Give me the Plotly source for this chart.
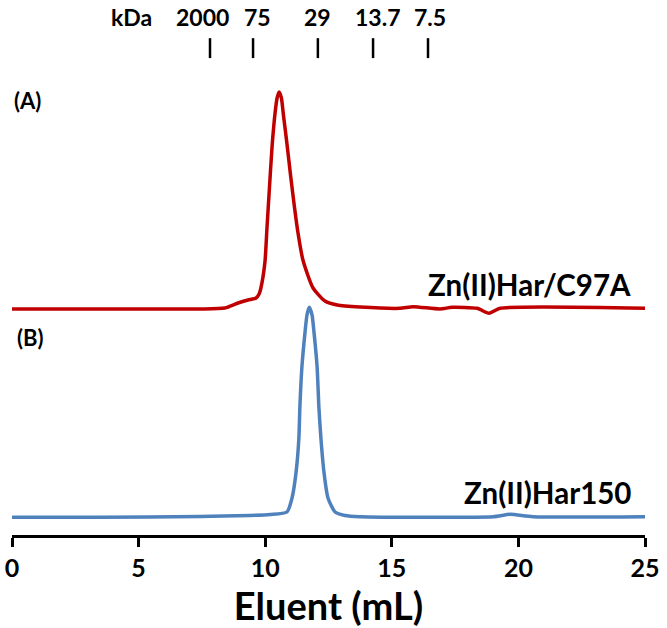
import plotly.graph_objects as go

# Elution profiles (x in mL, y in arbitrary absorbance units, traces offset)
red_x = [0, 3.48, 7.42, 8.41, 8.93, 9.32, 9.64, 9.76, 9.83, 9.99, 10.07, 10.15, 10.27, 10.39,
         10.47, 10.55, 10.64, 10.72, 10.86, 11.00, 11.15, 11.29, 11.49, 11.89, 12.36, 12.84, 13.74,
         15.32, 15.84, 16.90, 17.38, 18.37, 18.84, 19.28, 25.0]
red_y = [2.26, 2.26, 2.26, 2.27, 2.32, 2.35, 2.37, 2.41, 2.47, 2.73, 3.07, 3.40, 3.88, 4.22,
         4.37, 4.43, 4.37, 4.20, 3.91, 3.60, 3.29, 3.03, 2.75, 2.47, 2.34, 2.30, 2.28,
         2.267, 2.283, 2.26, 2.277, 2.267, 2.217, 2.267, 2.267]

blue_x = [0, 3.48, 7.42, 9.40, 10.19, 10.86, 11.06, 11.22, 11.33, 11.37, 11.45, 11.57, 11.65,
          11.74, 11.85, 11.93, 12.05, 12.12, 12.20, 12.32, 12.48, 12.76, 13.15, 13.74,
          19.00, 19.67, 20.58, 25.0]
blue_y = [0.177, 0.177, 0.185, 0.195, 0.205, 0.23, 0.37, 0.63, 0.97, 1.28, 1.68, 2.02, 2.20,
          2.277, 2.20, 2.02, 1.68, 1.28, 0.97, 0.63, 0.37, 0.23, 0.195, 0.183,
          0.183, 0.207, 0.183, 0.183]

# Molecular-weight markers
marker_labels = ["2000", "75", "29", "13.7", "7.5"]
marker_pos = [7.82, 9.52, 12.08, 14.26, 16.43]
marker_label_x = [7.54, 9.68, 12.05, 14.42, 16.51]

x_ticks = [0, 5, 10, 15, 20, 25]

FONT = "Lato"

fig = go.Figure()
fig.add_trace(go.Scatter(x=red_x, y=red_y, mode="lines",
                         line=dict(color="#C00000", width=3.5, shape="spline", smoothing=0.6),
                         showlegend=False))
fig.add_trace(go.Scatter(x=blue_x, y=blue_y, mode="lines",
                         line=dict(color="#4F81BD", width=3.5, shape="spline", smoothing=0.6),
                         showlegend=False))

for p in marker_pos:
    fig.add_shape(type="line", xref="x", yref="paper", x0=p, x1=p, y0=1.004, y1=1.046,
                  line=dict(color="black", width=2.5))


def label(text, x, y, size, xref="paper", xanchor="center"):
    fig.add_annotation(text=text, xref=xref, yref="paper", x=x, y=y, showarrow=False,
                       xanchor=xanchor, yanchor="middle",
                       font=dict(family=FONT, size=size, color="black", weight="bold"))


label("kDa", 4.70, 1.0905, 23, xref="x")
for lab, lx in zip(marker_labels, marker_label_x):
    label(lab, lx, 1.0905, 23, xref="x")

label("(A)", 0.025, 0.914, 22)
label("(B)", 0.03, 0.415, 22)
label("Zn(II)Har/C97A", 0.981, 0.528, 29.5, xanchor="right")
label("Zn(II)Har150", 0.981, 0.0905, 29.5, xanchor="right")

fig.update_layout(
    width=667, height=628,
    margin=dict(l=12, r=22, t=60, b=93),
    plot_bgcolor="white", paper_bgcolor="white",
    xaxis=dict(range=[0, 25], tickvals=x_ticks, showgrid=False, zeroline=False,
               automargin=False, ticklabeloverflow="allow",
               showline=True, linecolor="black", linewidth=2.5,
               ticks="outside", ticklen=9, tickwidth=2.5, tickcolor="black",
               tickfont=dict(family=FONT, size=25, color="black", weight="bold"),
               title=dict(text="Eluent (mL)", standoff=0,
                          font=dict(family=FONT, size=38, color="black", weight="bold"))),
    yaxis=dict(range=[0, 4.75], visible=False, showgrid=False, zeroline=False),
)

fig.write_html("out.html", config={"displayModeBar": False},
               post_script="document.body.style.margin='0';")
